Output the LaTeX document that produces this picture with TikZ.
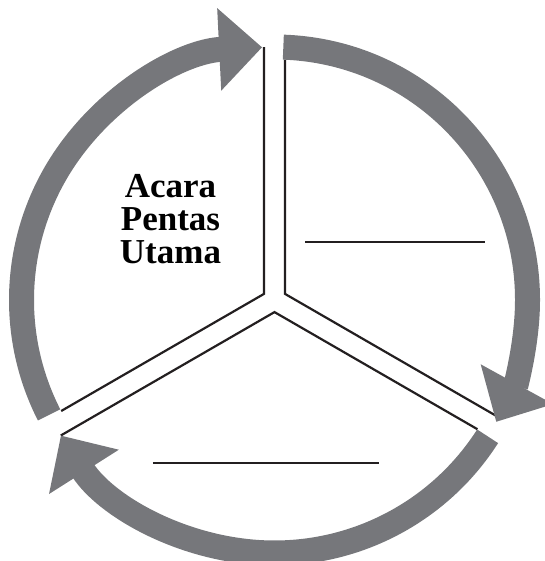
\documentclass[tikz,border=0pt]{standalone}
\usepackage{fontspec}
\setmainfont{Liberation Serif}
\usetikzlibrary{arrows.meta}
\definecolor{cyclegray}{RGB}{118,119,123}
\definecolor{inkblack}{RGB}{35,31,32}

\begin{document}
\begin{tikzpicture}[x=1pt, y=1pt,
  cyclearrow/.style={line width=25pt, cyclegray, -{Triangle[length=43pt, width=80pt]}},
  divider/.style={line width=2.2pt, inkblack, line join=miter},
  answerline/.style={line width=1.6pt, inkblack},
  sectortext/.style={font=\fontsize{35}{33}\selectfont\bfseries, align=center, inner sep=0pt}
]
\useasboundingbox (-274.5,-261) rectangle (269.5,300);

% Sector corners and ends
\coordinate (c) at (0,0);
\coordinate (leftTop) at (-10.5,252.8);
\coordinate (leftCorner) at (-10.5,6.1);
\coordinate (leftEnd) at (-213.3,-111.0);
\coordinate (rightTop) at (10.5,240.3);
\coordinate (rightCorner) at (10.5,6.1);
\coordinate (rightEnd) at (224.2,-117.3);
\coordinate (botLeft) at (-213.7,-135.5);
\coordinate (botApex) at (0,-12.1);
\coordinate (botRight) at (202.9,-129.2);

% Sector borders
\draw[divider] (leftTop) -- (leftCorner) -- (leftEnd);
\draw[divider] (rightTop) -- (rightCorner) -- (rightEnd);
\draw[divider] (botLeft) -- (botApex) -- (botRight);

% Arrows round the circle
\draw[cyclearrow] (207:253) arc[start angle=207, end angle=92.8, radius=253];
\draw[cyclearrow] (88:253) arc[start angle=88, end angle=-28.8, radius=253];
\draw[cyclearrow] (327.4:253) arc[start angle=327.4, end angle=212.4, radius=253];

% Text in the left sector
\node[sectortext] (stage) at (-104,81) {Acara\\Pentas\\Utama};

% Blank lines to fill in
\coordinate (rightBlankA) at (30.5,58);
\coordinate (rightBlankB) at (210.5,58);
\coordinate (botBlankA) at (-121.5,-163);
\coordinate (botBlankB) at (104.5,-163);
\draw[answerline] (rightBlankA) -- (rightBlankB);
\draw[answerline] (botBlankA) -- (botBlankB);

\end{tikzpicture}
\end{document}
